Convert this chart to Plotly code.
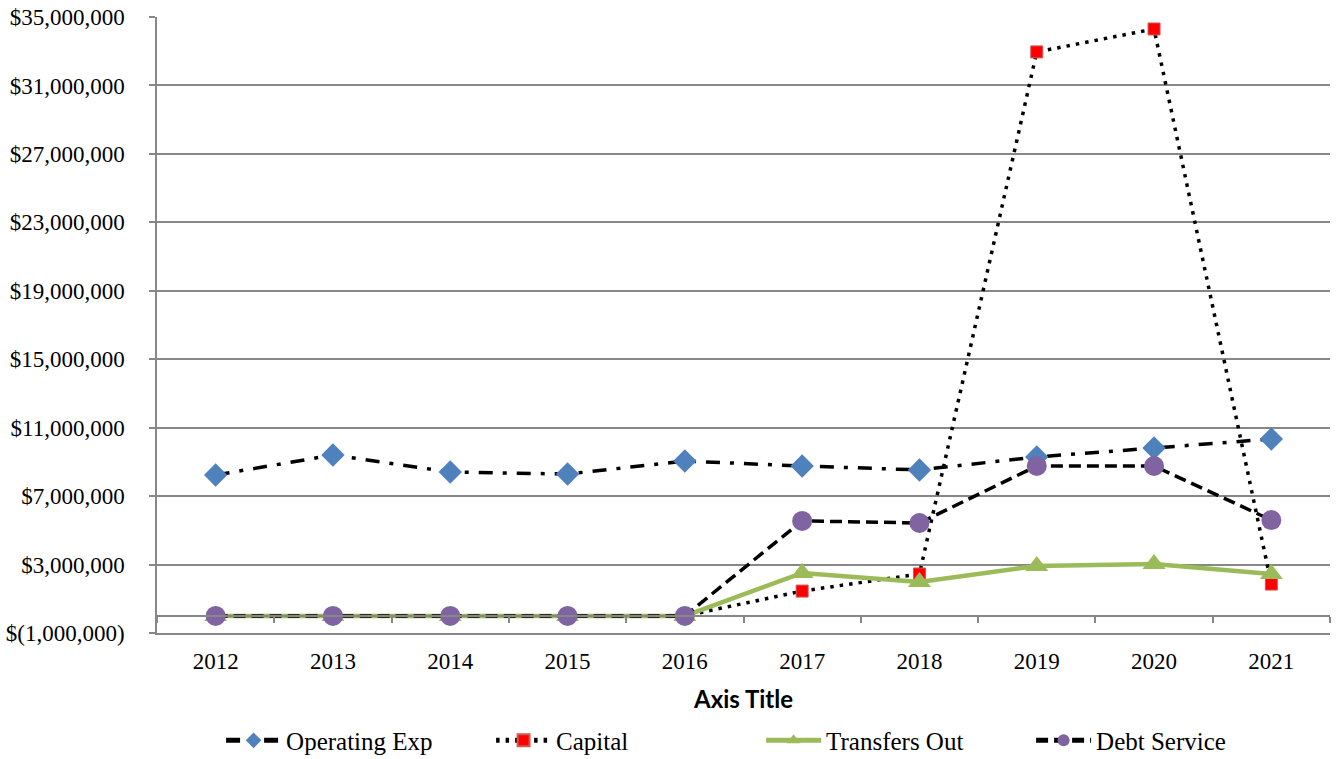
import numpy as np
import plotly.graph_objects as go

# Fiscal years shown on the category axis
years = ["2012", "2013", "2014", "2015", "2016", "2017", "2018", "2019", "2020", "2021"]

# Spending by category (dollars)
operating_exp = [8230000, 9400000, 8410000, 8290000, 9050000, 8760000, 8530000, 9290000, 9810000, 10340000]
capital = [0, 0, 0, 0, 0, 1450000, 2450000, 32960000, 34300000, 1860000]
transfers_out = [0, 0, 0, 0, 0, 2510000, 1980000, 2920000, 3030000, 2450000]
debt_service = [0, 0, 0, 0, 0, 5550000, 5430000, 8760000, 8760000, 5600000]

# Value-axis ticks
y_tickvals = [-1000000, 3000000, 7000000, 11000000, 15000000, 19000000, 23000000, 27000000, 31000000, 35000000]
y_ticktext = ["$(1,000,000)", "$3,000,000", "$7,000,000", "$11,000,000", "$15,000,000",
              "$19,000,000", "$23,000,000", "$27,000,000", "$31,000,000", "$35,000,000"]

AXIS_GREY = "#878787"
SERIF = "Liberation Serif"

fig = go.Figure()

fig.add_trace(go.Scatter(
    x=years, y=operating_exp, name="Operating Exp", mode="lines+markers",
    line=dict(color="black", width=3.5, dash="14px,10px,4px,10px"),
    marker=dict(symbol="diamond", size=18, color="#4F81BD", line=dict(width=0)),
))
fig.add_trace(go.Scatter(
    x=years, y=capital, name="Capital", mode="lines+markers",
    line=dict(color="black", width=3.5, dash="3.5px,6px"),
    marker=dict(symbol="square", size=12, color="#FF0000", line=dict(width=1, color="#D0595A")),
))
fig.add_trace(go.Scatter(
    x=years, y=transfers_out, name="Transfers Out", mode="lines+markers",
    line=dict(color="#9BBB59", width=4.5),
    marker=dict(symbol="triangle-up", size=20, color="#9BBB59", line=dict(width=0)),
))
fig.add_trace(go.Scatter(
    x=years, y=debt_service, name="Debt Service", mode="lines+markers",
    line=dict(color="black", width=3.5, dash="12px,6px"),
    marker=dict(symbol="circle", size=20, color="#8064A2", line=dict(width=0)),
))

# Helper axis that carries the category axis line and boundary ticks at y = 0
n = len(years)
fig.add_trace(go.Scatter(
    x=[0], y=[0], xaxis="x2", mode="none", showlegend=False, hoverinfo="skip",
))

y_min, y_max = -1000000, 35000000
zero_pos = (0 - y_min) / (y_max - y_min)

fig.update_layout(
    width=1336, height=759,
    margin=dict(l=157, r=6, t=17, b=126, autoexpand=False),
    paper_bgcolor="white", plot_bgcolor="white",
    showlegend=True,
    legend=dict(
        orientation="h", x=0.515, xanchor="center", y=-0.212, yanchor="bottom",
        font=dict(family=SERIF, size=25, color="black"),
        entrywidth=200, itemwidth=55, itemsizing="constant",
    ),
    xaxis=dict(
        type="category", range=[-0.5, n - 0.5], automargin=False,
        showgrid=False, zeroline=False,
        showline=True, linecolor=AXIS_GREY, linewidth=1.5,
        ticks="", ticklabelstandoff=7,
        tickfont=dict(family=SERIF, size=23, color="black"),
        title=dict(text="Axis Title", font=dict(family="Lato", size=24, color="black", weight="bold"),
                   standoff=18),
    ),
    xaxis2=dict(
        type="linear", overlaying="x", anchor="free", position=zero_pos, side="bottom",
        range=[-0.5, n - 0.5], automargin=False,
        tickmode="array", tickvals=list(np.arange(-0.5, n, 1.0)),
        showticklabels=False, showgrid=False, zeroline=False,
        showline=True, linecolor=AXIS_GREY, linewidth=1.5,
        ticks="outside", ticklen=6, tickwidth=1.5, tickcolor=AXIS_GREY,
    ),
    yaxis=dict(
        range=[y_min, y_max], automargin=False,
        tickmode="array", tickvals=y_tickvals, ticktext=y_ticktext,
        showgrid=True, gridcolor=AXIS_GREY, gridwidth=1.5,
        zeroline=False,
        showline=True, linecolor=AXIS_GREY, linewidth=1.5,
        ticks="outside", ticklen=6, tickwidth=1.5, tickcolor=AXIS_GREY,
        ticklabelstandoff=20,
        tickfont=dict(family=SERIF, size=23, color="black"),
    ),
)

fig.write_html("out.html")
